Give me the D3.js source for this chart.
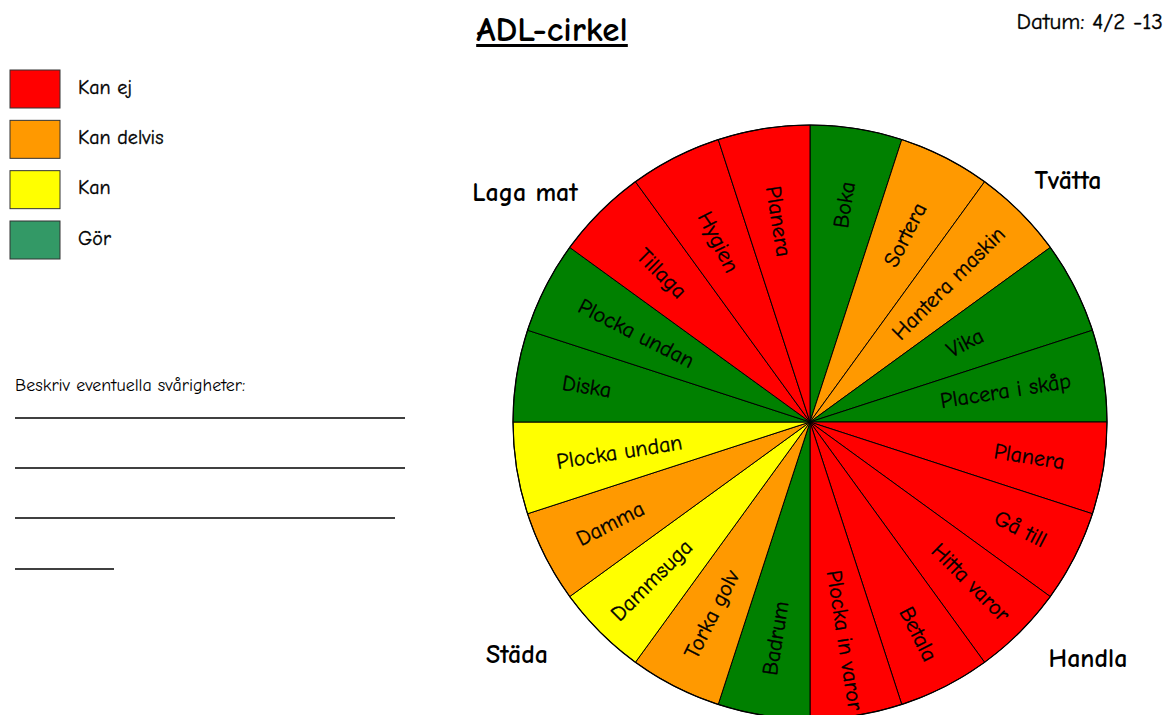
<!DOCTYPE html>
<html><head><meta charset="utf-8">
<script src="https://cdn.jsdelivr.net/npm/d3@7"></script>
<style>
html,body{margin:0;padding:0;background:#fff;}
svg{display:block;}
text{font-family:"Comic Sans MS","Comic Neue","DejaVu Sans",sans-serif;fill:#000;}
text.reg{stroke:#000;stroke-width:0.35px;}
</style></head>
<body>
<svg id="c" width="1165" height="715"></svg>
<script>
// ---- data ----
const activities = ["Boka","Sortera","Hantera maskin","Vika","Placera i skåp",
  "Planera","Gå till","Hitta varor","Betala","Plocka in varor",
  "Badrum","Torka golv","Dammsuga","Damma","Plocka undan",
  "Diska","Plocka undan","Tillaga","Hygien","Planera"];
const statuses = ["Gör","Kan delvis","Kan delvis","Gör","Gör",
  "Kan ej","Kan ej","Kan ej","Kan ej","Kan ej",
  "Gör","Kan delvis","Kan","Kan delvis","Kan",
  "Gör","Gör","Kan ej","Kan ej","Kan ej"];
const groups = ["Tvätta","Handla","Städa","Laga mat"];
const legendLabels = ["Kan ej","Kan delvis","Kan","Gör"];
const pieColors = {"Kan ej":"#ff0000","Kan delvis":"#ff9900","Kan":"#ffff00","Gör":"#008000"};
const legendColors = {"Kan ej":"#ff0000","Kan delvis":"#ff9900","Kan":"#ffff00","Gör":"#339966"};
const title = "ADL-cirkel";
const dateText = "Datum: 4/2 -13";
const noteText = "Beskriv eventuella svårigheter:";

// ---- layout (positions, not data) ----
const cx = 810, cy = 422, R = 297;
const labelRadii = [220,210,196,174,198,222,236,227,238,221,219,216,224,224,193,226,195,210,202,203];
const groupLabelXY = [[1068,181],[1088,659],[517,655],[525,193]];

// ---- drawing ----
const svg = d3.select("#c");
const data = activities.map((a,i)=>({label:a,status:statuses[i]}));
const pie = d3.pie().value(()=>1).sort(null);
const arcs = pie(data);
const arc = d3.arc().innerRadius(0).outerRadius(R);

const g = svg.append("g").attr("transform",`translate(${cx},${cy})`);
g.selectAll("path.slice").data(arcs).join("path")
  .attr("class","slice")
  .attr("d",arc)
  .attr("fill",d=>pieColors[d.data.status])
  .attr("stroke","#000").attr("stroke-width",1);
g.append("circle").attr("r",R).attr("fill","none").attr("stroke","#000").attr("stroke-width",1.2);

g.selectAll("text.lab").data(arcs).join("text")
  .attr("class","lab reg")
  .attr("transform",(d,i)=>{
    const a = (d.startAngle+d.endAngle)/2;
    const deg = a*180/Math.PI;
    const r = labelRadii[i];
    const x = Math.sin(a)*r, y = -Math.cos(a)*r;
    const rot = deg<180 ? deg-90 : deg+90;
    return `translate(${x},${y}) rotate(${rot})`;
  })
  .attr("text-anchor","middle").attr("dominant-baseline","central")
  .style("font-size","22px")
  .text(d=>d.data.label);

svg.selectAll("text.grp").data(groups).join("text")
  .attr("class","grp")
  .attr("x",(d,i)=>groupLabelXY[i][0])
  .attr("y",(d,i)=>groupLabelXY[i][1])
  .attr("text-anchor","middle").attr("dominant-baseline","central")
  .style("font-size","26px").style("font-weight","bold")
  .text(d=>d);

// title
const t = svg.append("text").attr("x",552).attr("y",41).attr("text-anchor","middle")
  .style("font-size","35px").style("font-weight","bold").text(title);
const tb = t.node().getBBox();
svg.append("rect").attr("x",tb.x).attr("y",44).attr("width",tb.width).attr("height",3).attr("fill","#000");

svg.append("text").attr("class","reg").attr("x",1163).attr("y",29).attr("text-anchor","end")
  .style("font-size","23px").text(dateText);

// legend
const ly = d3.scalePoint().domain(legendLabels).range([89,240]);
const lg = svg.append("g");
lg.selectAll("rect").data(legendLabels).join("rect")
  .attr("x",10).attr("y",d=>ly(d)-19).attr("width",50).attr("height",38)
  .attr("fill",d=>legendColors[d]).attr("stroke","#333").attr("stroke-width",1);
lg.selectAll("text").data(legendLabels).join("text")
  .attr("class","reg")
  .attr("x",78).attr("y",d=>ly(d)-2).attr("dominant-baseline","central")
  .style("font-size","20px").text(d=>d);

// notes
svg.append("text").attr("x",15).attr("y",391).style("font-size","18px").text(noteText);
const lineEnds = [405,405,395,114];
const lineYs = [418,468,518,569];
svg.selectAll("line.note").data(lineEnds).join("line")
  .attr("class","note")
  .attr("x1",15).attr("x2",d=>d)
  .attr("y1",(d,i)=>lineYs[i]).attr("y2",(d,i)=>lineYs[i])
  .attr("stroke","#000").attr("stroke-width",1.3);
</script>
</body></html>
